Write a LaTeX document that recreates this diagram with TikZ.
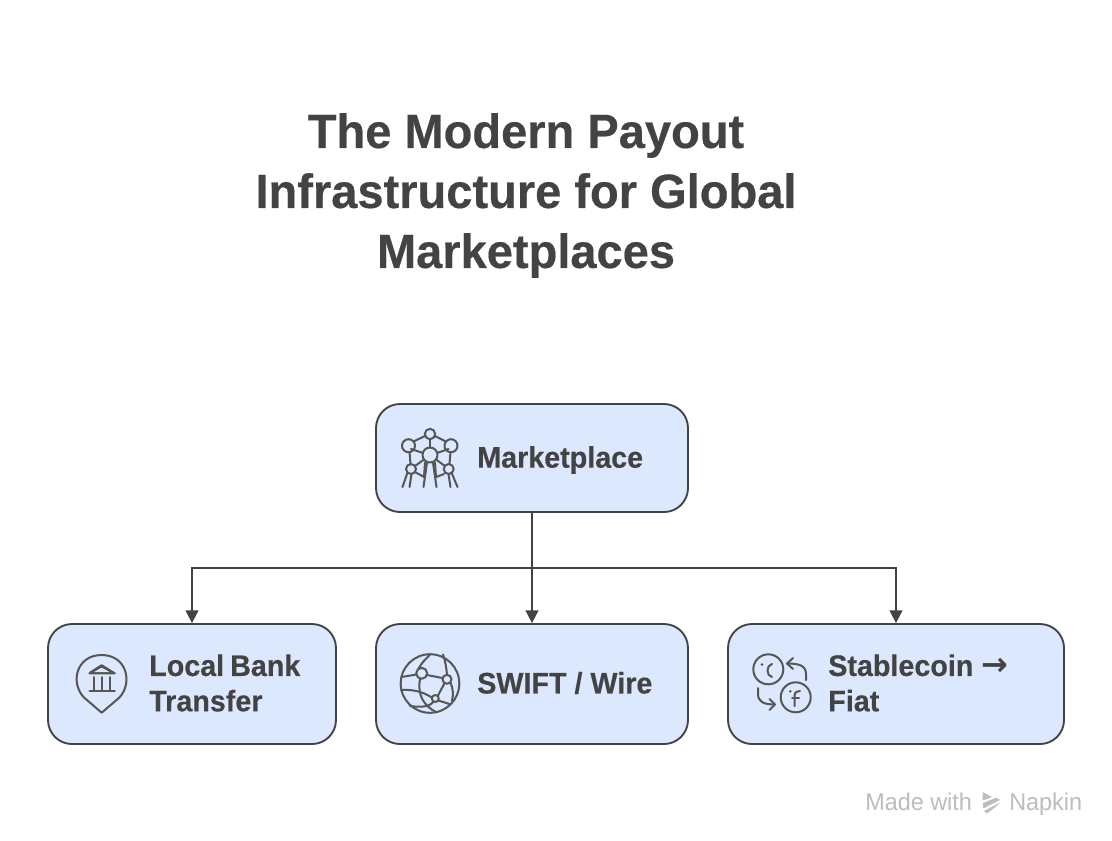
\documentclass[tikz,border=0pt]{standalone}
\usepackage{fontspec}
\setmainfont{Liberation Sans}[FakeStretch=0.965]
\newfontfamily\headfont{Liberation Sans}[FakeStretch=0.98,BoldFeatures={FakeBold=0.4}]
\newfontfamily\cardfont{Liberation Sans}[BoldFont={Liberation Sans Bold},BoldFeatures={FakeStretch=0.965,FakeBold=0.3}]
\newfontfamily\arrowfont{DejaVu Sans}
\usetikzlibrary{arrows.meta}
\definecolor{ink}{HTML}{434343}
\definecolor{boxfill}{HTML}{DBE8FE}
\definecolor{wmgray}{HTML}{BDBDBD}
\tikzset{
  x=0.75pt,y=-0.75pt,
  card/.style={draw=ink,fill=boxfill,line width=1.4pt,rounded corners=18pt,minimum height=#1*0.75pt,inner sep=0pt},
  arrowline/.style={draw=ink,line width=1.4pt,-{Triangle[length=9.5pt,width=9.5pt]}},
  trunk/.style={draw=ink,line width=1.4pt},
  icon/.style={draw=ink!90,line width=1.5pt,line cap=round,line join=round},
  headline/.style={font=\headfont\fontsize{36}{45}\selectfont\bfseries,text=ink,align=center,anchor=center,inner sep=0pt},
  cardtext/.style={font=\cardfont\fontsize{22.3}{26.5}\selectfont\bfseries,text=ink,align=left,anchor=west,inner sep=0pt},
  wm/.style={font=\fontsize{18.2}{20}\selectfont,text=wmgray,anchor=base west,inner sep=0pt}
}
\begin{document}
\begin{tikzpicture}
\useasboundingbox (0,0) rectangle (1112,840);
\fill[white] (0,0) rectangle (1112,840);
\node[headline] (title) at (526,195.5) {The Modern Payout\\Infrastructure for Global\\Marketplaces};
% cards
\node[card=108,minimum width=234pt] (market) at (532,458) {};
\node[card=120,minimum width=216pt] (local) at (192,684) {};
\node[card=120,minimum width=234pt] (swift) at (532,684) {};
\node[card=120,minimum width=252pt] (stable) at (896,684) {};
% connectors
\coordinate (hub) at (532,568);
\coordinate (bendL) at (192,568);
\coordinate (bendR) at (896,568);
\draw[trunk] (market.south) -- (hub);
\draw[arrowline] (hub) -- (bendL) -- (local.north);
\draw[arrowline] (hub) -- (swift.north);
\draw[arrowline] (hub) -- (bendR) -- (stable.north);
% labels
\node[cardtext] (marketlabel) at (477,460) {Marketplace};
\node[cardtext] (locallabel) at (149,683) {Local\hspace{-1.5pt} Bank\\Transfer};
\node[cardtext] (swiftlabel) at (477,683) {SWIFT / Wire};
\node[cardtext] (stablelabel) at (828,683) {Stablecoin {\arrowfont\fontsize{24}{20}\selectfont\bfseries →}\\Fiat};
% marketplace icon
\begin{scope}[icon]
\draw (430,434) circle[radius=5.2];
\draw (408.5,445.7) circle[radius=6.5];
\draw (451,445.7) circle[radius=6.5];
\draw (430,455) circle[radius=7.5];
\draw (411,469) circle[radius=5];
\draw (448.7,469) circle[radius=5];
\draw (425,436) -- (414.5,441);
\draw (435,436) -- (445,441);
\draw (430,439.2) -- (430,447.5);
\draw (411,449) -- (423,453);
\draw (448.5,449) -- (437,453);
\draw (409.5,452) -- (410.5,464);
\draw (450.5,452) -- (449.5,464);
\draw (415,466) -- (424,459.5);
\draw (445,466) -- (436,459.5);
\draw (415,472) -- (424,477) -- (425,462.5);
\draw (444,474) -- (436,477) -- (435,462.5);
\draw (407.5,472.5) -- (402.5,487);
\draw (411.5,474) -- (409.5,487);
\draw (427,462.5) -- (423.5,487);
\draw (433,462.5) -- (436.5,487);
\draw (448.5,474) -- (450.5,487);
\draw (451.5,472.5) -- (457.5,487);
\end{scope}
% bank icon
\begin{scope}[icon]
\draw (101.7,712.7) -- (84,697.5) .. controls (70,683) and (76,655) .. (101.7,655) .. controls (127,655) and (133,683) .. (119.4,697.5) -- cycle;
\draw[fill=ink] (89.5,673.3) -- (114.8,673.3) -- (113,672.3) -- (101.7,665.2) -- (90.5,672.3) -- cycle;
\fill[boxfill] (94,672) -- (101.7,667.5) -- (109.5,672) -- cycle;
\draw (94,677) -- (94,690);
\draw (101.7,677) -- (101.7,690);
\draw (110,677) -- (110,690);
\draw (89.5,690.7) -- (114.8,690.7);
\end{scope}
% globe icon
\begin{scope}[icon]
\draw (430,683.5) circle[radius=29.3];
\draw (421.7,673.3) circle[radius=5.5];
\draw (447,679.3) circle[radius=4.5];
\draw (435.3,698.5) circle[radius=3.5];
\draw (427,675) -- (442.5,678);
\draw (444.5,683.3) -- (438,695.5);
\draw (431.8,697.5) .. controls (425,693) and (415,689) .. (401,690);
\draw (420,679) .. controls (417,695) and (424,706) .. (436,712);
\draw (418.5,668.8) .. controls (422,662) and (426,659) .. (430,654.5);
\draw (416.5,674.5) -- (401.5,677);
\draw (443,654.5) .. controls (445,660) and (446.5,668) .. (447,674.8);
\draw (450.5,682.5) .. controls (453,688) and (453.5,695) .. (452,701);
\draw (438.5,700.5) -- (449.5,704);
\draw (433.5,701.5) .. controls (429,708) and (418,707) .. (410,706);
\end{scope}
% stablecoin icon
\begin{scope}[icon]
\draw (768.3,669.3) circle[radius=15];
\draw (795.7,697.3) circle[radius=15];
\fill[ink] (762,664.5) circle[radius=1.3];
\fill[ink] (790.3,691.3) circle[radius=1.3];
\draw (772,664) .. controls (766,665) and (766,676) .. (772,677);
\draw (794.5,706) -- (794.5,696) .. controls (794.5,692) and (797,691) .. (800,691);
\draw (792,698) -- (799,698);
\draw (806,680) -- (806,674) .. controls (806,665) and (798,663.5) .. (787,663.5);
\draw (793,658) -- (787,663.5) -- (793,669);
\draw (758,688) -- (758,694) .. controls (758,702) and (764,704.5) .. (775,704.5);
\draw (769.5,699) -- (775,704.5) -- (769.5,710);
\end{scope}
% watermark
\node[wm] (made) at (865,810) {Made with};
\node[wm] (napkin) at (1009,810) {Napkin};
\fill[wmgray] (982.5,792) -- (992,797) -- (982.5,800.5) -- cycle;
\fill[wmgray] (983,803) -- (996,797.8) -- (1000,800) -- (983,808.5) -- cycle;
\fill[wmgray] (984,811) -- (1000,802.5) -- (996,806.5) -- (987,813.5) -- cycle;
\end{tikzpicture}
\end{document}
